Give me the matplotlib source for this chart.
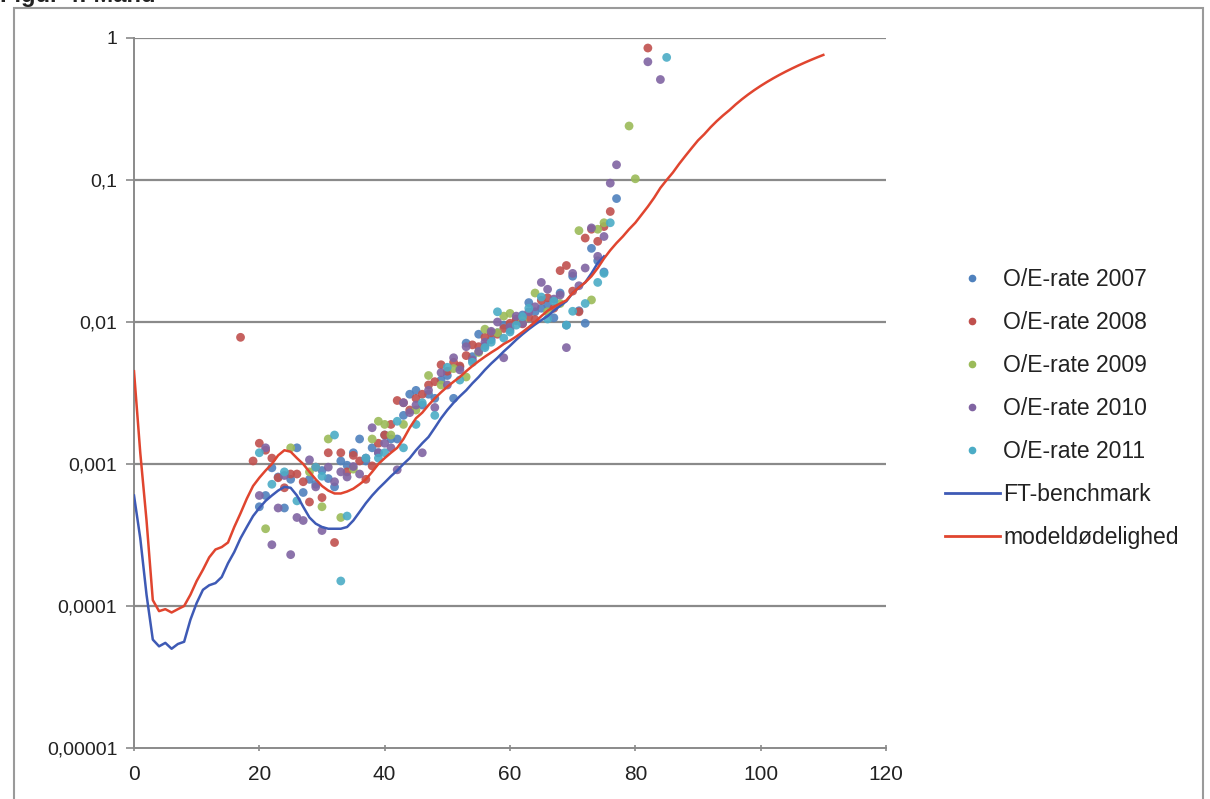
import matplotlib
matplotlib.use("Agg")
import matplotlib.pyplot as plt
from matplotlib.lines import Line2D
from matplotlib.patches import Rectangle
from matplotlib.ticker import FixedLocator, NullLocator

plt.rcParams["font.family"] = ["Liberation Sans", "DejaVu Sans"]

# model mortality (red line), ages 0..110
red_ages = list(range(0, 111))
red_vals = [0.0045, 0.0012, 0.0004, 0.00011, 0.000092, 0.000095, 0.00009, 0.000095, 0.0001, 0.00012,
            0.00015, 0.00018, 0.00022, 0.00025, 0.00026, 0.00028, 0.00036, 0.00045, 0.00057, 0.0007,
            0.0008, 0.0009, 0.001, 0.00115, 0.00125, 0.00122, 0.0011, 0.001, 0.00088, 0.00078,
            0.0007, 0.00065, 0.00062, 0.00062, 0.00064, 0.00067, 0.00072, 0.00078, 0.00088, 0.001,
            0.0011, 0.0012, 0.0013, 0.0015, 0.0018, 0.0021, 0.0023, 0.0026, 0.0029, 0.0032,
            0.0035, 0.0038, 0.0041, 0.0045, 0.0049, 0.0053, 0.0057, 0.0061, 0.0065, 0.007,
            0.0074, 0.0079, 0.0085, 0.0092, 0.01, 0.011, 0.012, 0.0128, 0.0135, 0.0142,
            0.016, 0.0175, 0.019, 0.021, 0.024, 0.028, 0.032, 0.036, 0.04, 0.045,
            0.05, 0.057, 0.065, 0.075, 0.088, 0.1, 0.113, 0.13, 0.148, 0.168,
            0.19, 0.21, 0.235, 0.26, 0.285, 0.31, 0.34, 0.37, 0.40, 0.43,
            0.46, 0.49, 0.52, 0.55, 0.58, 0.61, 0.64, 0.67, 0.70, 0.73, 0.76]

# FT benchmark (blue line), ages 0..75
blue_ages = list(range(0, 76))
blue_vals = [0.0006, 0.0003, 0.00012, 0.000058, 0.000052, 0.000055, 0.00005, 0.000054, 0.000056, 0.00008,
             0.000105, 0.00013, 0.00014, 0.000145, 0.00016, 0.0002, 0.00024, 0.0003, 0.00036, 0.00043,
             0.00049, 0.00055, 0.0006, 0.00065, 0.00069, 0.00068, 0.0006, 0.0005, 0.00042, 0.00038,
             0.00036, 0.00035, 0.00035, 0.00035, 0.00036, 0.0004, 0.00046, 0.00053, 0.0006, 0.00067,
             0.00074, 0.00082, 0.0009, 0.001, 0.0011, 0.00125, 0.0014, 0.00155, 0.0018, 0.0021,
             0.0024, 0.0027, 0.003, 0.0033, 0.0037, 0.0041, 0.0046, 0.0051, 0.0056, 0.0062,
             0.0068, 0.0075, 0.0082, 0.0089, 0.0096, 0.0103, 0.011, 0.012, 0.013, 0.014,
             0.016, 0.0175, 0.019, 0.022, 0.026, 0.029]

# O/E rates per year
ages_2007 = list(range(20, 76)) + [77]
oe_2007 = [0.0005, 0.0006, 0.00094, 0.00081, 0.00049, 0.00078, 0.0013, 0.00063, 0.00078, 0.00072,
           0.0009, 0.00079, 0.00069, 0.00105, 0.00098, 0.0012, 0.0015, 0.00105, 0.0013, 0.0012,
           0.0016, 0.0015, 0.0015, 0.0022, 0.0031, 0.0033, 0.0026, 0.0031, 0.0029, 0.0039,
           0.0042, 0.0029, 0.0048, 0.0071, 0.0057, 0.0082, 0.0068, 0.0075, 0.0084, 0.0095,
           0.0088, 0.0102, 0.0112, 0.0137, 0.0118, 0.0125, 0.0132, 0.0107, 0.016, 0.0095,
           0.021, 0.012, 0.0098, 0.033, 0.027, 0.0225, 0.074]

ages_2008 = [17] + list(range(19, 77)) + [82]
oe_2008 = [0.0078, 0.00105, 0.0014, 0.00125, 0.0011, 0.0008, 0.00068, 0.00085, 0.00085, 0.00075,
           0.00054, 0.00095, 0.00058, 0.0012, 0.00028, 0.0012, 0.00088, 0.00115, 0.00105, 0.00078,
           0.00097, 0.0014, 0.0016, 0.0019, 0.0028, 0.0027, 0.0024, 0.0029, 0.0031, 0.0036,
           0.0038, 0.005, 0.0045, 0.0052, 0.0049, 0.0058, 0.0069, 0.0067, 0.0078, 0.0084,
           0.0082, 0.009, 0.0098, 0.0105, 0.0097, 0.0108, 0.0104, 0.0142, 0.0148, 0.0125,
           0.023, 0.025, 0.0165, 0.0118, 0.039, 0.045, 0.037, 0.047, 0.06, 0.85]

ages_2009 = [21, 25, 28, 30, 31, 33, 35, 38, 39, 40, 41, 43, 45, 47, 49, 51, 53, 55, 56, 58,
             59, 60, 62, 64, 66, 68, 71, 73, 74, 75, 79, 80]
oe_2009 = [0.00035, 0.0013, 0.00088, 0.0005, 0.0015, 0.00042, 0.00092, 0.0015, 0.002, 0.0019,
           0.0016, 0.0019, 0.0024, 0.0042, 0.0036, 0.0047, 0.0041, 0.0061, 0.0089, 0.0084,
           0.011, 0.0115, 0.0102, 0.016, 0.0118, 0.0135, 0.044, 0.0143, 0.045, 0.05, 0.24, 0.102]

ages_2010 = list(range(20, 78)) + [82, 84]
oe_2010 = [0.0006, 0.0013, 0.00027, 0.00049, 0.00083, 0.00023, 0.00042, 0.0004, 0.00107, 0.00069,
           0.00034, 0.00095, 0.00075, 0.00088, 0.00081, 0.00096, 0.00085, 0.0011, 0.0018, 0.0012,
           0.0014, 0.0013, 0.00091, 0.0027, 0.0023, 0.0026, 0.0012, 0.0033, 0.0025, 0.0044,
           0.0036, 0.0056, 0.0046, 0.0067, 0.0054, 0.0062, 0.0072, 0.0086, 0.01, 0.0056,
           0.0092, 0.011, 0.0098, 0.0118, 0.0128, 0.019, 0.017, 0.0145, 0.0155, 0.0066,
           0.022, 0.018, 0.024, 0.046, 0.029, 0.04, 0.095, 0.128, 0.68, 0.51]

ages_2011 = [20, 22, 24, 26, 29, 30, 32, 33, 34, 37, 39, 40, 42, 43, 45, 46, 48, 50, 52, 54,
             56, 57, 58, 59, 60, 61, 62, 63, 65, 66, 67, 69, 70, 72, 74, 75, 76, 85]
oe_2011 = [0.0012, 0.00072, 0.00088, 0.00055, 0.00095, 0.00082, 0.0016, 0.00015, 0.00043, 0.0011,
           0.0011, 0.0012, 0.002, 0.0013, 0.0019, 0.0027, 0.0022, 0.0048, 0.0039, 0.0052,
           0.0066, 0.0072, 0.0118, 0.0077, 0.0085, 0.0095, 0.0109, 0.0125, 0.015, 0.0105,
           0.014, 0.0095, 0.0119, 0.0135, 0.019, 0.022, 0.05, 0.73]

series = [
    ("O/E-rate 2007", ages_2007, oe_2007, "#4F81BD"),
    ("O/E-rate 2008", ages_2008, oe_2008, "#C0504D"),
    ("O/E-rate 2009", ages_2009, oe_2009, "#9BBB59"),
    ("O/E-rate 2010", ages_2010, oe_2010, "#8064A2"),
    ("O/E-rate 2011", ages_2011, oe_2011, "#4BACC6"),
]

fig = plt.figure(figsize=(12.1, 7.99), dpi=100)
ax = fig.add_axes([134 / 1210, 51 / 799, 752 / 1210, 710 / 799])

# outer chart frame and (partly cut-off) title, as in the scan
fig.patches.append(Rectangle((14 / 1210, -0.02), 1189 / 1210, 1.0 - 8 / 799 + 0.02,
                             transform=fig.transFigure, fill=False, ec="#9a9a9a", lw=1.5))
fig.text(0.0, 1 - 7 / 799, "Figur 4: Mand", fontsize=17, fontweight="bold", va="bottom", ha="left",
         color="#222222")

ax.set_yscale("log")
ax.set_ylim(1e-5, 1)
ax.set_xlim(0, 120)

for label, a, v, c in series:
    ax.scatter(a, v, s=40, color=c, edgecolors="none", alpha=0.9, zorder=3, label=label)

ax.plot(blue_ages, blue_vals, color="#3E5AB5", lw=1.8, zorder=4, label="FT-benchmark")
ax.plot(red_ages, red_vals, color="#E0452F", lw=1.8, zorder=5, label="modeldødelighed")

yt = [1e-5, 1e-4, 1e-3, 1e-2, 1e-1, 1]
ylabels = ["0,00001", "0,0001", "0,001", "0,01", "0,1", "1"]
ax.yaxis.set_major_locator(FixedLocator(yt))
ax.yaxis.set_minor_locator(NullLocator())
ax.set_yticklabels(ylabels)
ax.set_xticks(range(0, 121, 20))

for y in yt[1:]:
    ax.axhline(y, color="#8a8a8a", lw=1.6, zorder=1)

for s in ["top", "right"]:
    ax.spines[s].set_visible(False)
ax.spines["left"].set_color("#8a8a8a")
ax.spines["bottom"].set_color("#8a8a8a")
ax.spines["left"].set_linewidth(1.4)
ax.spines["bottom"].set_linewidth(1.4)
ax.tick_params(axis="y", labelsize=14, colors="#8a8a8a", labelcolor="#222222", length=6, width=1.2, pad=6)
ax.tick_params(axis="x", labelsize=15, colors="#8a8a8a", labelcolor="#222222", length=5, width=1.2,
               direction="inout", pad=10)

handles = [Line2D([], [], ls="none", marker="o", ms=4.5, color=c) for _, _, _, c in series]
handles += [Line2D([], [], color="#3E5AB5", lw=2), Line2D([], [], color="#E0452F", lw=2)]
labels = [s[0] for s in series] + ["FT-benchmark", "modeldødelighed"]
fig.legend(handles, labels, loc="upper left", bbox_to_anchor=(945 / 1210, 1 - 268 / 799),
           frameon=False, fontsize=16.5, labelspacing=0.87, handlelength=2.4, handletextpad=0.15,
           borderpad=0, borderaxespad=0, labelcolor="#222222")

fig.savefig("out.png", dpi=100)
